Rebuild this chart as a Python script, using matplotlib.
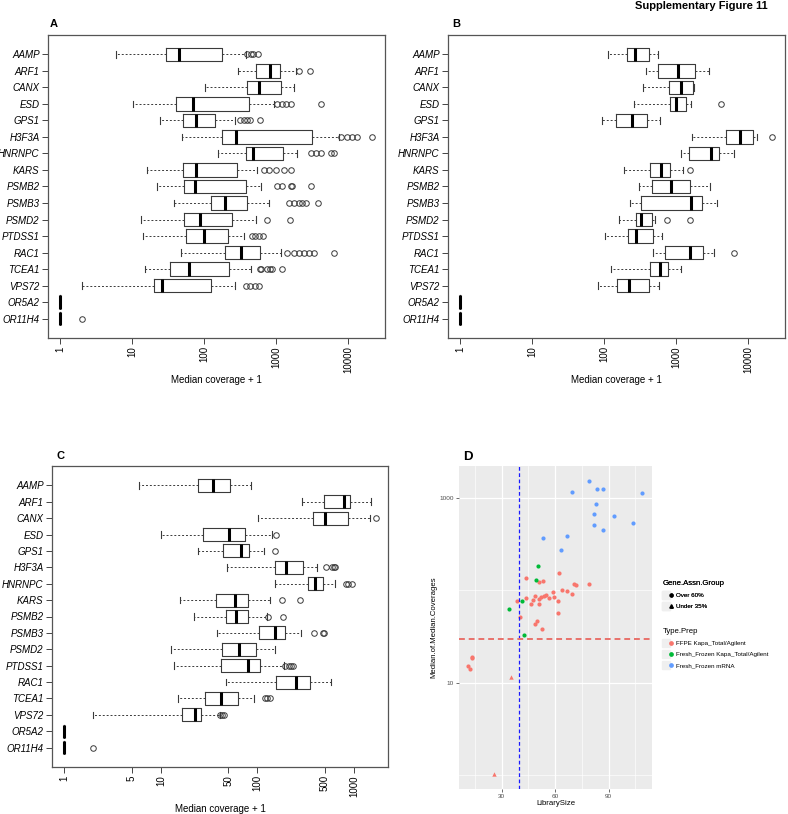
import numpy as np
import matplotlib
matplotlib.use("Agg")
import matplotlib.pyplot as plt
from matplotlib.lines import Line2D
from matplotlib.legend_handler import HandlerTuple
from matplotlib.ticker import FixedLocator, NullLocator, NullFormatter

plt.rcParams['font.family'] = ['Liberation Sans', 'DejaVu Sans']

genes = ['AAMP', 'ARF1', 'CANX', 'ESD', 'GPS1', 'H3F3A', 'HNRNPC', 'KARS', 'PSMB2',
         'PSMB3', 'PSMD2', 'PTDSS1', 'RAC1', 'TCEA1', 'VPS72', 'OR5A2', 'OR11H4']

# panel A: whisker low, Q1, median, Q3, whisker high, outliers (median coverage + 1)
a_lo = [5.9, 292, 103, 10.1, 24, 49, 156, 16, 22, 38, 13, 14, 48, 14.9, 2.0, 1, 1]
a_q1 = [28.9, 516, 394, 40, 50, 177, 378, 50, 52, 124, 52, 55, 193, 33, 19.9, 1, 1]
a_med = [45, 815, 573, 70, 77, 277, 467, 77, 74, 191, 88, 99, 325, 61, 26, 1, 1]
a_q3 = [177, 1121, 1170, 416, 140, 3090, 1248, 283, 382, 394, 241, 215, 591, 217, 122, 1, 1]
a_hi = [373, 1890, 1757, 925, 263, 7420, 1960, 543, 604, 789, 514, 354, 1170, 448, 266, 1, 1]
a_out = [[396, 438, 470, 553], [2060, 2890], [], [1030, 1200, 1380, 1580, 4210],
         [310, 355, 395, 430, 597], [7820, 9680, 11370, 13340, 21570],
         [2990, 3510, 4120, 5680, 6310], [672, 789, 977, 1275, 1610],
         [1030, 1200, 1580, 1660, 2990], [1500, 1760, 2060, 2290, 2550, 3790],
         [748, 1545], [462, 499, 573, 658], [1420, 1760, 2060, 2420, 2840, 3330, 6310],
         [591, 617, 748, 815, 877, 1183], [373, 429, 499, 573], [], [2]]

# panel B
b_lo = [112, 376, 349, 262, 93, 1652, 1178, 189, 304, 228, 158, 101, 469, 125, 81, 1, 1]
b_q1 = [205, 561, 796, 805, 146, 4920, 1503, 431, 454, 320, 273, 212, 694, 431, 150, 1, 1]
b_med = [268, 1038, 1153, 975, 241, 7760, 3055, 611, 831, 1585, 320, 273, 1535, 592, 217, 1, 1]
b_q3 = [422, 1800, 1706, 1381, 388, 11480, 3900, 814, 1567, 2296, 454, 469, 2345, 771, 422, 1, 1]
b_hi = [550, 2800, 1762, 1585, 592, 13180, 6410, 1242, 2960, 3700, 505, 638, 3325, 1153, 580, 1, 1]
b_out = [[], [], [], [4110], [], [21230], [], [1567], [], [], [732, 1535], [], [6280],
         [], [], [], []]

# panel C
c_lo = [5.96, 291, 102, 10, 24, 49, 154, 15.9, 21.8, 38, 12.8, 13.7, 47, 15, 2.0, 1, 1]
c_q1 = [24, 496, 375, 27, 44, 154, 333, 37.5, 47.7, 103, 43, 42, 157, 28.4, 16.5, 1, 1]
c_med = [35, 788, 508, 51, 67, 200, 400, 58, 60.5, 151, 65, 79, 254, 42, 22.7, 1, 1]
c_q3 = [52.5, 902, 867, 75, 81, 296, 477, 80, 79, 192, 97, 106, 355, 62.5, 26.2, 1, 1]
c_hi = [86, 1490, 1466, 142, 116, 416, 645, 136, 126, 286, 154, 188, 586, 93, 40.6, 1, 1]
c_out = [[], [], [1680], [157], [151], [516, 596, 620, 645], [832, 874, 961], [180, 275],
         [129, 183], [384, 481, 496], [], [195, 211, 224, 235], [], [121, 126, 134],
         [41, 43, 44.7], [], [2]]

ticks_ab = [1, 10, 100, 1000, 10000]
ticks_c = [1, 5, 10, 50, 100, 500, 1000]

# panel D: LibrarySize vs Median.of.Median.Coverages
ffpe_x = [62.1, 43.6, 51.1, 53.2, 70.6, 71.9, 79.0, 58.8, 64.0, 66.6, 69.3, 55.0, 53.9, 51.9,
          50.7, 56.4, 48.5, 43.6, 47.8, 46.6, 50.9, 38.8, 59.3, 61.8, 61.4, 40.5, 50.0, 48.5,
          52.6, 13.4, 13.6, 11.1, 12.2]
ffpe_y = [155, 136, 123, 126, 117, 114, 118, 95, 100, 98, 91, 90, 86, 84,
          81, 82, 87, 83, 78, 71, 72, 76, 84, 77, 57, 51, 47, 43,
          38, 19, 18.5, 15, 14]
ffpe_tri_x = [35.4, 25.7]
ffpe_tri_y = [11.6, 1.01]
ffkapa_x = [50.6, 49.4, 41.6, 33.9, 42.7]
ffkapa_y = [186, 131, 77, 63, 33]
mrna_x = [78.8, 69.3, 83.6, 86.6, 108.9, 82.9, 82.0, 93.2, 81.8, 86.6, 103.6, 53.0, 66.6, 63.5]
mrna_y = [1555, 1180, 1274, 1252, 1133, 875, 670, 643, 514, 450, 545, 374, 387, 273]
lib_cut = 40
cov_cut = 30

W, H = 788, 814
fig = plt.figure(figsize=(W / 100, H / 100), dpi=100)


def px_axes(left, top, right, bottom):
    return fig.add_axes([left / W, 1 - bottom / H, (right - left) / W, (bottom - top) / H])


def box_panel(ax, lo, q1, med, q3, hi, out, xlim, ticks, label_y):
    stats = [dict(whislo=l, q1=a, med=m, q3=b, whishi=h, fliers=o)
             for l, a, m, b, h, o in zip(lo, q1, med, q3, hi, out)]
    pos = np.arange(1, len(genes) + 1)
    ax.bxp(stats, positions=pos, orientation='horizontal', widths=0.8, capwidths=0.4,
           boxprops=dict(color='#3a3a3a', lw=0.8),
           whiskerprops=dict(color='#3a3a3a', lw=0.7, ls=(0, (2, 2))),
           capprops=dict(color='#3a3a3a', lw=0.8),
           medianprops=dict(color='black', lw=2.2, solid_capstyle='butt'),
           flierprops=dict(marker='o', mfc='none', mec='#3a3a3a', ms=4, mew=0.7))
    ax.set_xscale('log')
    ax.set_xlim(xlim)
    ax.set_ylim(len(genes) + 1.18, -0.18)
    ax.set_yticks(pos)
    ax.set_yticklabels(genes, style='italic')
    ax.xaxis.set_major_locator(FixedLocator(ticks))
    ax.xaxis.set_minor_locator(NullLocator())
    ax.set_xticklabels([str(t) for t in ticks], rotation=90)
    ax.tick_params(labelsize=7, length=4, width=0.7, color='#444444', pad=2)
    for s in ax.spines.values():
        s.set_color('#555555')
        s.set_linewidth(0.9)
    ax.set_xlabel('Median coverage + 1', fontsize=7)
    ax.xaxis.set_label_coords(0.5, label_y)


ax_a = px_axes(48, 35, 385, 338)
box_panel(ax_a, a_lo, a_q1, a_med, a_q3, a_hi, a_out, (10 ** -0.173, 10 ** 4.51), ticks_ab, -0.122)
ax_b = px_axes(448, 35, 785, 338)
box_panel(ax_b, b_lo, b_q1, b_med, b_q3, b_hi, b_out, (10 ** -0.173, 10 ** 4.51), ticks_ab, -0.122)
ax_c = px_axes(52, 466, 388, 767)
box_panel(ax_c, c_lo, c_q1, c_med, c_q3, c_hi, c_out, (10 ** -0.129, 10 ** 3.354), ticks_c, -0.123)

# panel D, ggplot look
ax_d = px_axes(459, 466, 652, 789)
ax_d.set_facecolor('#EBEBEB')
ax_d.set_axisbelow(True)
red, green, blue = '#F8766D', '#00BA38', '#619CFF'
ax_d.scatter(ffpe_x, ffpe_y, s=9, c=red, marker='o', lw=0)
ax_d.scatter(ffpe_tri_x, ffpe_tri_y, s=10, c=red, marker='^', lw=0)
ax_d.scatter(ffkapa_x, ffkapa_y, s=9, c=green, marker='o', lw=0)
ax_d.scatter(mrna_x, mrna_y, s=9, c=blue, marker='o', lw=0)
ax_d.axvline(lib_cut, color='#1a1aff', lw=0.9, ls=(0, (3, 2)))
ax_d.axhline(cov_cut, color='#E8716B', lw=1.4, ls=(0, (3, 2)))
ax_d.set_yscale('log')
ax_d.set_xlim(6.1, 114.3)
ax_d.set_ylim(0.70, 2240)
ax_d.xaxis.set_major_locator(FixedLocator([30, 60, 90]))
ax_d.xaxis.set_minor_locator(FixedLocator([15, 45, 75, 105]))
ax_d.yaxis.set_major_locator(FixedLocator([10, 1000]))
ax_d.yaxis.set_minor_locator(FixedLocator([1, 100]))
ax_d.xaxis.set_minor_formatter(NullFormatter())
ax_d.yaxis.set_minor_formatter(NullFormatter())
ax_d.set_xticklabels(['30', '60', '90'])
ax_d.set_yticklabels(['10', '1000'])
ax_d.grid(which='major', color='white', lw=0.9)
ax_d.grid(which='minor', color='white', lw=0.45)
for s in ax_d.spines.values():
    s.set_visible(False)
ax_d.tick_params(which='major', length=2, width=0.5, color='#333333', labelsize=4.6,
                 labelcolor='#4D4D4D', pad=1.5)
ax_d.tick_params(which='minor', length=0)
ax_d.set_xlabel('LibrarySize', fontsize=5.6)
ax_d.xaxis.set_label_coords(0.5, -0.034)
ax_d.set_ylabel('Median.of.Median.Coverages', fontsize=5.6)
ax_d.yaxis.set_label_coords(-0.114, 0.5)

key = dict(marker='s', ms=5.5, color='#EFEFEF', ls='')
hmap = {tuple: HandlerTuple(ndivide=None)}
leg_opts = dict(loc='upper left', frameon=False, fontsize=4.5, title_fontsize=5.6,
                handler_map=hmap, alignment='left', handlelength=1.6, handletextpad=0.5,
                labelspacing=0.9, borderpad=0, borderaxespad=0)
shape_handles = [(Line2D([], [], **key), Line2D([], [], marker='o', color='black', ms=2.2, ls='')),
                 (Line2D([], [], **key), Line2D([], [], marker='^', color='black', ms=2.4, ls=''))]
leg1 = fig.legend(shape_handles, ['Over 60%', 'Under 35%'], title='Gene.Assn.Group',
                  bbox_to_anchor=(663 / W, 1 - 580 / H), **leg_opts)
prep_handles = [(Line2D([], [], **key), Line2D([], [], marker='o', color=c, ms=2.4, ls=''))
                for c in (red, green, blue)]
fig.legend(prep_handles, ['FFPE Kapa_Total/Agilent', 'Fresh_Frozen Kapa_Total/Agilent',
                          'Fresh_Frozen mRNA'], title='Type.Prep',
           bbox_to_anchor=(663 / W, 1 - 628 / H), **leg_opts)
fig.add_artist(leg1)

fig.text(768 / W, 1 - 6 / H, 'Supplementary Figure 11', ha='right', va='center',
         weight='bold', fontsize=8)
fig.text(50 / W, 1 - 24 / H, 'A', weight='bold', fontsize=8, va='center')
fig.text(452 / W, 1 - 24 / H, 'B', weight='bold', fontsize=8, va='center')
fig.text(56 / W, 1 - 456 / H, 'C', weight='bold', fontsize=8, va='center')
fig.text(463 / W, 1 - 457 / H, 'D', weight='bold', fontsize=9.5, va='center')

fig.savefig('out.png', dpi=100)
